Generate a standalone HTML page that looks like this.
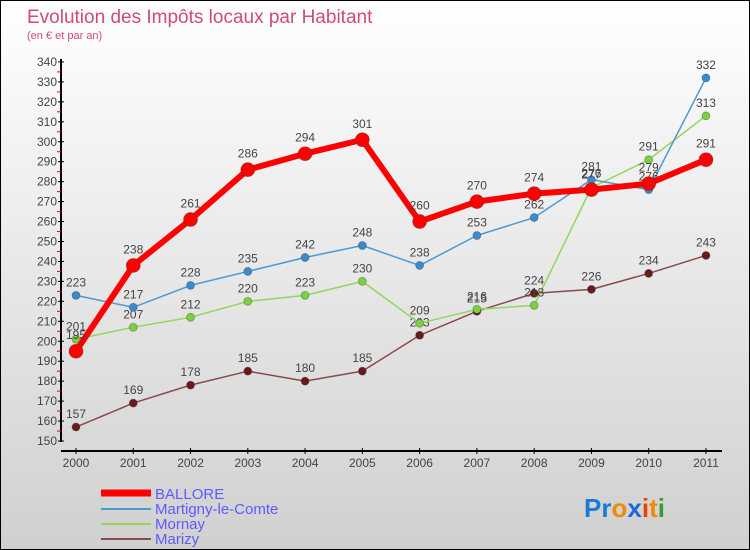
<!DOCTYPE html>
<html><head><meta charset="utf-8"><style>
body{margin:0;}
#wrap{width:748px;height:548px;border:1px solid #000;background:linear-gradient(#ffffff,#d0d0d0);position:relative;overflow:hidden;font-family:"Liberation Sans",sans-serif;}
svg text{font-family:"Liberation Sans",sans-serif;}
</style></head><body>
<div id="wrap">
<svg id="chart" width="748" height="548">
<text x="26" y="22" font-size="19" fill="#d04a7a">Evolution des Impôts locaux par Habitant</text>
<text x="26" y="38" font-size="11" fill="#d04a7a">(en € et par an)</text>
<g id="axes"></g><g id="series"></g>
<g>
<line x1="100" y1="492" x2="150" y2="492" stroke="#f00" stroke-width="7"/>
<text x="154" y="498" font-size="15" fill="#5b5bff">BALLORE</text>
<line x1="100" y1="508" x2="150" y2="508" stroke="#4a9ad4" stroke-width="2"/>
<text x="154" y="513" font-size="15" fill="#5b5bff">Martigny-le-Comte</text>
<line x1="100" y1="523" x2="150" y2="523" stroke="#8fd85a" stroke-width="2"/>
<text x="154" y="528" font-size="15" fill="#5b5bff">Mornay</text>
<line x1="100" y1="538" x2="150" y2="538" stroke="#8a4a4a" stroke-width="2"/>
<text x="154" y="543" font-size="15" fill="#5b5bff">Marizy</text>
</g>
<g font-size="26" font-weight="bold">
<text x="583" y="516"><tspan fill="#1a7ad8">Pr</tspan><tspan fill="#f08a00">o</tspan><tspan fill="#1a6ad8">x</tspan><tspan fill="#f04000">i</tspan><tspan fill="#f08a00">t</tspan><tspan fill="#3a9a3a">i</tspan></text>
</g>
</svg>
</div>
<script>
const years=["2000","2001","2002","2003","2004","2005","2006","2007","2008","2009","2010","2011"];
const yTicks=[150,160,170,180,190,200,210,220,230,240,250,260,270,280,290,300,310,320,330,340];
const ballore=[195,238,261,286,294,301,260,270,274,276,279,291];
const martigny=[223,217,228,235,242,248,238,253,262,281,276,332];
const mornay=[201,207,212,220,223,230,209,216,218,277,291,313];
const marizy=[157,169,178,185,180,185,203,215,224,226,234,243];
const NS="http://www.w3.org/2000/svg";
const xs=i=>75+i*57.27;
const ys=v=>440-(v-150)*1.995;
function mk(tag,attrs,parent){const e=document.createElementNS(NS,tag);for(const k in attrs)e.setAttribute(k,attrs[k]);parent.appendChild(e);return e;}
const ax=document.getElementById('axes');
mk('line',{x1:60,y1:58,x2:60,y2:441,stroke:'#000','stroke-width':2},ax);
mk('line',{x1:60,y1:450,x2:721,y2:450,stroke:'#000','stroke-width':2},ax);
yTicks.forEach((v,i)=>{
 mk('line',{x1:57,y1:ys(v),x2:63,y2:ys(v),stroke:'#000'},ax);
 if(i<yTicks.length-1) mk('line',{x1:56,y1:ys(v+5),x2:60,y2:ys(v+5),stroke:'#f00'},ax);
 const t=mk('text',{x:56,y:ys(v)+4,'font-size':12,fill:'#444','text-anchor':'end'},ax);
 
 
 t.textContent=v;
});
years.forEach((y,i)=>{
 mk('line',{x1:xs(i),y1:447,x2:xs(i),y2:453,stroke:'#000'},ax);
 const t=mk('text',{x:xs(i),y:466,'font-size':12,fill:'#444','text-anchor':'middle'},ax);
 
 
 t.textContent=y;
});
const sg=document.getElementById('series');
function draw(data,name,color,w,r,dot){
 const g=mk('g',{},sg);
 
 
 mk('polyline',{points:data.map((v,i)=>xs(i)+','+ys(v)).join(' '),fill:'none',stroke:color,'stroke-width':w,'stroke-linejoin':'round'},g);
 data.forEach((v,i)=>{
  const c=mk('circle',{cx:xs(i),cy:ys(v),r:r,fill:dot,stroke:'#333','stroke-opacity':0.4,'stroke-width':0.8},g);
  
  
  const t=mk('text',{x:xs(i),y:ys(v)-r-5,'font-size':12,fill:'#444','text-anchor':'middle'},g);
  
  
  t.textContent=v;
 });
}
draw(marizy,'marizy','#8a4a4a',1.5,4,'#6a1a1a');
draw(mornay,'mornay','#8fd85a',1.5,4,'#7ad040');
draw(martigny,'martigny','#4a9ad4',1.5,4,'#3a8acc');
draw(ballore,'ballore','#f00',6,7,'#f00');
</script>
</body></html>
